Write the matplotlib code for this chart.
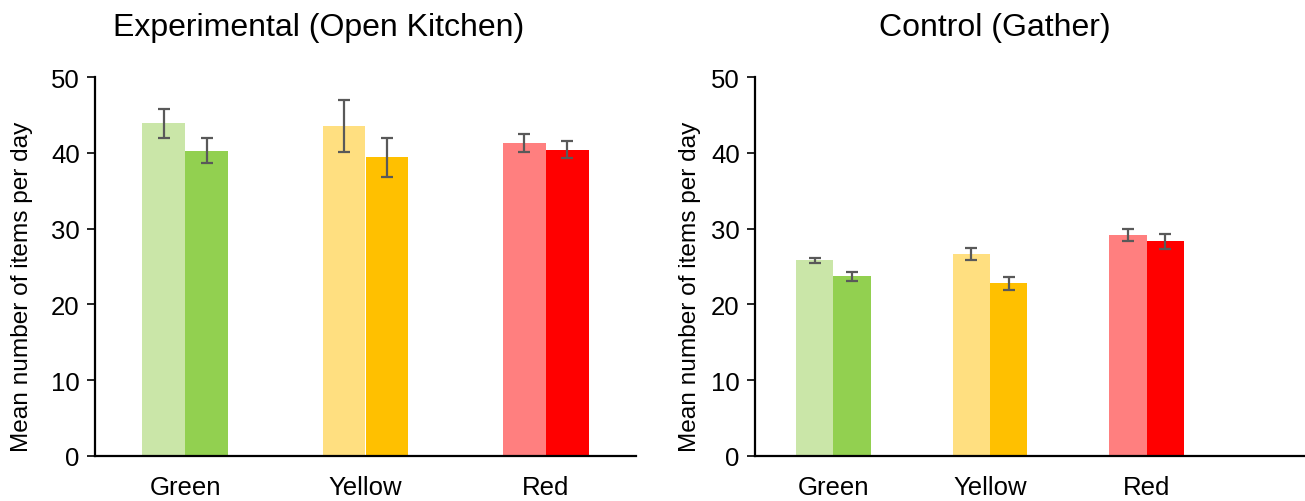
import numpy as np
import matplotlib
matplotlib.use("Agg")
import matplotlib.pyplot as plt

plt.rcParams["font.family"] = ["Liberation Sans", "DejaVu Sans"]

categories = ["Green", "Yellow", "Red"]

# Experimental (Open Kitchen)
exp_first = [43.9, 43.5, 41.3]
exp_first_err = [1.9, 3.4, 1.2]
exp_second = [40.3, 39.4, 40.4]
exp_second_err = [1.6, 2.6, 1.1]

# Control (Gather)
ctl_first = [25.8, 26.6, 29.1]
ctl_first_err = [0.35, 0.8, 0.8]
ctl_second = [23.7, 22.8, 28.3]
ctl_second_err = [0.55, 0.85, 1.05]

light_colors = ["#CAE6A8", "#FFDF80", "#FF7F7F"]
dark_colors = ["#92D050", "#FFC000", "#FF0000"]

fig = plt.figure(figsize=(13.05, 5.02), dpi=100)
W, H = 1305, 502


def panel(rect_px, label_off, title, title_x,
          first, first_err, second, second_err, xmax):
    l, r, b, t = rect_px
    ax = fig.add_axes([l / W, 1 - b / H, (r - l) / W, (b - t) / H])
    x = np.arange(len(categories))
    w = 0.238
    ek = dict(ecolor="#595959", elinewidth=1.6, capsize=4.5, capthick=1.6)
    ax.bar(x - w / 2, first, w, color=light_colors, yerr=first_err,
           error_kw=ek, zorder=2)
    ax.bar(x + w / 2, second, w, color=dark_colors, yerr=second_err,
           error_kw=ek, zorder=2)
    ax.set_ylim(0, 50)
    ax.set_xlim(-0.5, xmax)
    ax.set_yticks(range(0, 51, 10))
    ax.set_xticks(x)
    ax.set_xticklabels(categories)
    ax.tick_params(axis="x", length=0, labelsize=18.5, pad=14)
    ax.tick_params(axis="y", length=6, width=1.2, labelsize=18.5, pad=5,
                   direction="out")
    for s in ["top", "right"]:
        ax.spines[s].set_visible(False)
    for s in ["left", "bottom"]:
        ax.spines[s].set_linewidth(1.6)
    ax.set_ylabel("Mean number of items per day", fontsize=17.6)
    ax.yaxis.set_label_coords(label_off / (r - l), 0.45)
    fig.text(title_x / W, 1 - 28 / H, title, fontsize=23,
             ha="center", va="center")
    return ax


panel((95, 636, 457, 78), -62, "Experimental (Open Kitchen)", 319,
      exp_first, exp_first_err, exp_second, exp_second_err, 2.5)
panel((755, 1305, 457, 78), -54, "Control (Gather)", 995,
      ctl_first, ctl_first_err, ctl_second, ctl_second_err, 3.01)

fig.savefig("out.png", dpi=100)
